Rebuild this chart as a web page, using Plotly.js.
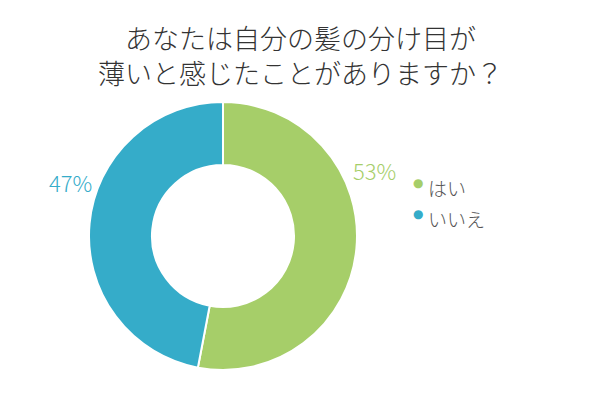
<!DOCTYPE html>
<html><head><meta charset="utf-8">
<script src="https://cdn.plot.ly/plotly-3.0.1.min.js"></script>
<style>body{margin:0;background:#fff}#c{width:600px;height:400px}</style>
</head><body><div id="c"></div>
<script>
const labels = ['はい', 'いいえ'];
const values = [53, 47];
const colors = ['#a6ce69', '#35acc9'];
const titleText = 'あなたは自分の髪の分け目が<br>薄いと感じたことがありますか？';

const font = '"Noto Sans CJK JP", "Noto Sans", sans-serif';
const traces = [{
  type: 'pie', labels: labels, values: values, hole: 0.53, sort: false,
  direction: 'clockwise', rotation: 0,
  marker: {colors: colors, line: {color: '#ffffff', width: 2}},
  textinfo: 'none', hoverinfo: 'label+percent', showlegend: false,
  domain: {x: [0.1483, 0.595], y: [0.075, 0.745]}
}];
const labelPos = [{x: 374, y: 170}, {x: 70, y: 182}];
const annotations = [{
  xref: 'paper', yref: 'paper', x: 0.5, y: 1 - 16 / 400, xanchor: 'center', yanchor: 'top',
  showarrow: false, text: titleText, align: 'center',
  font: {family: font, size: 27, weight: 300, color: '#333333'}
}];
values.forEach((v, i) => annotations.push({
  xref: 'paper', yref: 'paper', x: labelPos[i].x / 600, y: 1 - labelPos[i].y / 400,
  xanchor: 'center', yanchor: 'middle', showarrow: false,
  text: v + '%', font: {family: font, size: 22, weight: 300, color: colors[i]}
}));
labels.forEach((l, i) => {
  const yc = 1 - (187 + 31 * i) / 400;
  annotations.push({
    xref: 'paper', yref: 'paper', x: 418 / 600, y: yc + 4 / 400, xanchor: 'center', yanchor: 'middle',
    showarrow: false, text: '●', font: {family: '"DejaVu Sans", sans-serif', size: 12, color: colors[i]}
  });
  annotations.push({
    xref: 'paper', yref: 'paper', x: 426 / 600, y: yc, xanchor: 'left', yanchor: 'middle',
    showarrow: false, text: l, font: {family: font, size: 19, weight: 300, color: '#555555'}
  });
});
Plotly.newPlot('c', traces, {
  width: 600, height: 400, margin: {l: 0, r: 0, t: 0, b: 0},
  paper_bgcolor: '#fff', plot_bgcolor: '#fff',
  showlegend: false,
  annotations: annotations
}, {displayModeBar: false, staticPlot: true});
</script></body></html>
